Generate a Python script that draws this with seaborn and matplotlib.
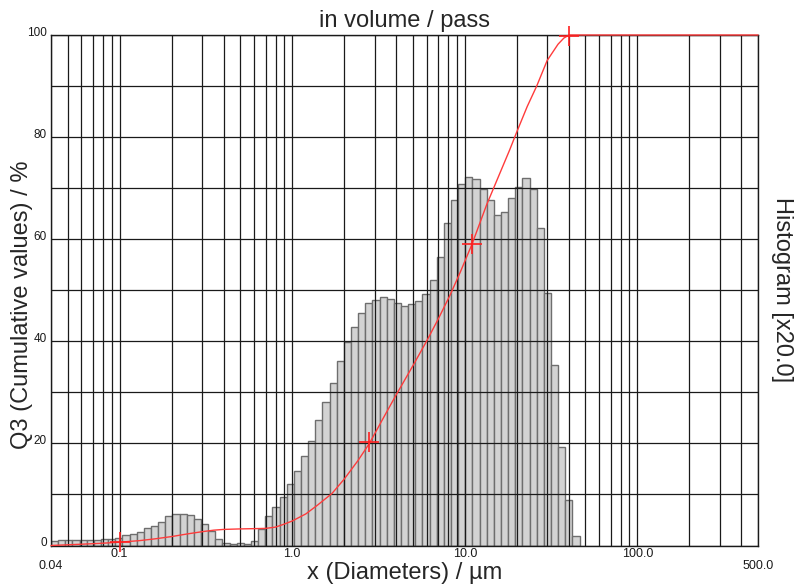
import numpy as np
import seaborn as sns
import matplotlib.pyplot as plt
import matplotlib.transforms as mtransforms
from matplotlib.ticker import FixedLocator, LogLocator, NullFormatter

# Histogram classes: geometric bins starting at 0.04 um, ratio 1.1
bin_start = 0.04
bin_ratio = 1.1
hist_heights = [
    0.9, 1.05, 1.0, 1.0, 1.0, 1.0, 1.1, 1.25, 1.25, 1.55,
    2.05, 2.25, 2.7, 3.35, 3.9, 4.55, 5.7, 6.15, 6.15, 6.0,
    5.15, 4.2, 2.8, 1.2, 0.42, 0.38, 0.5, 0.3, 0.9, 3.2,
    5.7, 7.5, 9.45, 11.95, 14.55, 17.45, 20.55, 24.5, 28.1, 31.9,
    36.1, 39.9, 42.8, 45.5, 47.5, 48.1, 48.7, 48.35, 47.5, 46.9,
    47.3, 47.8, 49.3, 52.1, 56.5, 63.2, 67.7, 70.9, 72.1, 71.7,
    69.8, 67.7, 64.8, 65.3, 68.1, 70.2, 71.9, 69.8, 62.2, 49.4,
    35.3, 19.2, 9.0, 1.9,
]

# Cumulative Q3 curve
curve_x = [0.04, 0.06, 0.08, 0.1, 0.13, 0.16, 0.2, 0.25, 0.3, 0.35,
           0.4, 0.5, 0.6, 0.7, 0.8, 0.9, 1.0, 1.2, 1.4, 1.7,
           2.0, 2.4, 2.8, 3.4, 4.0, 5.0, 6.0, 7.0, 8.2, 9.4,
           11.0, 13.4, 16.0, 18.2, 20.0, 23.0, 26.1, 30.0, 34.7, 37.5, 40.2, 500.0]
curve_q3 = [0.0, 0.25, 0.45, 0.65, 0.95, 1.3, 1.75, 2.3, 2.7, 3.0,
            3.15, 3.25, 3.3, 3.35, 3.6, 4.2, 4.8, 6.2, 7.9, 10.2,
            13.0, 16.6, 20.0, 25.2, 29.5, 35.2, 40.0, 44.3, 49.0, 53.5,
            59.0, 66.8, 73.0, 77.5, 81.0, 86.0, 90.0, 95.0, 98.2, 99.4, 100.0, 100.0]

# "+" markers on the curve
mark_x = [0.1, 2.8, 11.0, 40.2]
mark_y = [0.65, 20.2, 59.0, 99.8]

x_ticks = [0.04, 0.1, 1.0, 10.0, 100.0, 500.0]
x_ticklabels = ["0.04", "0.1", "1.0", "10.0", "100.0", "500.0"]
y_ticks = [0, 20, 40, 60, 80, 100]

sns.set_theme(style="white")
plt.rcParams["font.family"] = ["Liberation Sans", "DejaVu Sans"]

n_bins = len(hist_heights)
edges = bin_start * bin_ratio ** np.arange(n_bins + 1)
centers = np.sqrt(edges[:-1] * edges[1:])

fig = plt.figure(figsize=(7.96, 5.85), dpi=100)
ax = fig.add_axes([51 / 796, 1 - 545.5 / 585, 707 / 796, 510.5 / 585])

sns.histplot(x=centers, weights=hist_heights, log_scale=True,
             bins=n_bins, binrange=(np.log10(edges[0]), np.log10(edges[-1])),
             color="#d3d3d3", edgecolor="#6e6e6e", linewidth=1.0, alpha=1.0,
             ax=ax, zorder=1)

sns.lineplot(x=curve_x, y=curve_q3, color="#ff3b3b", linewidth=1.0,
             estimator=None, sort=False, ax=ax, zorder=4)
ax.lines[-1].set_clip_on(False)
ax.plot(mark_x, mark_y, "+", color="#ff2020", markersize=14, mew=1.2,
        zorder=5, clip_on=False)

ax.set_xscale("log")
ax.set_xlim(0.04, 500)
ax.set_ylim(0, 100)

# grid on top of the bars
ax.set_axisbelow(False)
ax.xaxis.set_major_locator(FixedLocator(x_ticks))
ax.xaxis.set_minor_locator(LogLocator(base=10, subs=np.arange(2, 10)))
ax.xaxis.set_minor_formatter(NullFormatter())
ax.set_xticklabels(x_ticklabels)
ax.set_yticks(y_ticks)
ax.set_yticks(range(10, 100, 20), minor=True)
ax.grid(True, which="both", color="#1a1a1a", linewidth=0.9)

ax.tick_params(which="both", length=0)
ax.tick_params(axis="x", labelsize=9, pad=2, colors="#1a1a1a")
ax.tick_params(axis="y", labelsize=8.5, pad=3, colors="#1a1a1a")

for sp in ax.spines.values():
    sp.set_color("#1a1a1a")
    sp.set_linewidth(1.0)

# nudge tick labels like the original
up = mtransforms.ScaledTranslation(0, 4 / 100, fig.dpi_scale_trans)
for lab in ax.get_yticklabels():
    lab.set_transform(lab.get_transform() + up)
down = mtransforms.ScaledTranslation(0, -12 / 100, fig.dpi_scale_trans)
xlabs = ax.get_xticklabels()
for lab in (xlabs[0], xlabs[-1]):
    lab.set_transform(lab.get_transform() + down)

ax.set_title("in volume / pass", fontsize=17, pad=6)
ax.set_xlabel("x (Diameters) / µm", fontsize=17, va="baseline")
ax.xaxis.set_label_coords(0.5, (545.5 - 579) / 510.5)
ax.set_ylabel("Q3 (Cumulative values) / %", fontsize=17, va="center")
ax.yaxis.set_label_coords((22 - 51) / 707, (545.5 - 305) / 510.5)
fig.text(782 / 796, 1 - 290 / 585, "Histogram [x20.0]", rotation=-90,
         ha="center", va="center", fontsize=17)

fig.savefig("out.png", dpi=100)
